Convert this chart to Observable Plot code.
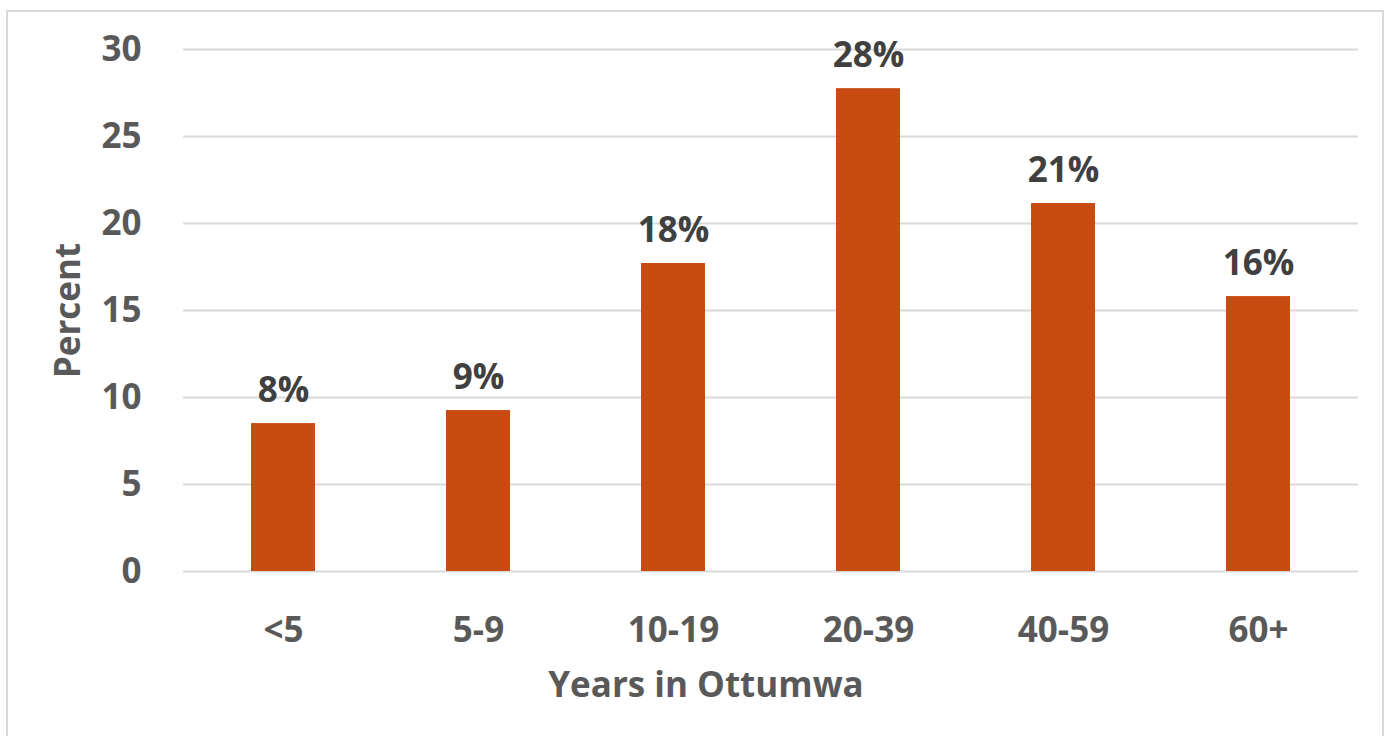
<!DOCTYPE html>
<html>
<head>
<meta charset="utf-8">
<script src="https://cdn.jsdelivr.net/npm/d3@7"></script>
<script src="https://cdn.jsdelivr.net/npm/@observablehq/plot@0.6"></script>
<style>
  html, body { margin: 0; padding: 0; background: #fff; }
  #frame { position: absolute; left: 6px; top: 10px; width: 1378px; height: 760px; border: 2px solid #d9d9d9; box-sizing: border-box; }
  #chart { position: absolute; left: 0; top: 0; }
</style>
</head>
<body>
<div id="frame"></div>
<div id="chart"></div>
<script>
const categories = ["<5", "5-9", "10-19", "20-39", "40-59", "60+"];
const percents = [8.5, 9.25, 17.7, 27.75, 21.15, 15.8];
const labels = ["8%", "9%", "18%", "28%", "21%", "16%"];
const yTicks = [0, 5, 10, 15, 20, 25, 30];

const data = categories.map((c, i) => ({cat: c, value: percents[i], label: labels[i]}));

const font = "'Open Sans', sans-serif";
const chart = Plot.plot({
  width: 1393,
  height: 736,
  marginLeft: 183,
  marginRight: 35,
  marginTop: 49,
  marginBottom: 165,
  style: {fontFamily: font, fontWeight: "bold", background: "transparent"},
  x: {domain: categories, paddingInner: 0.673, paddingOuter: 0.3365},
  y: {domain: [0, 30]},
  marks: [
    Plot.gridY(yTicks, {stroke: "#d9d9d9", strokeOpacity: 1, strokeWidth: 2}),
    Plot.barY(data, {x: "cat", y: "value", fill: "#c84b12"}),
    Plot.text(data, {x: "cat", y: "value", text: "label", dy: -33, fill: "#404040", fontSize: 35, fontWeight: "bold", lineAnchor: "middle"}),
    Plot.axisY(yTicks, {tickSize: 0, tickPadding: 42, fontSize: 35, fill: "#595959", label: null, fontWeight: "bold"}),
    Plot.axisX({tickSize: 0, tickPadding: 46, fontSize: 35, fill: "#595959", label: null, fontWeight: "bold"}),
    Plot.text(["Percent"], {frameAnchor: "left", textAnchor: "middle", dx: -115, rotate: -90, fontSize: 35, fill: "#595959", fontWeight: "bold", lineAnchor: "middle"}),
    Plot.text(["Years in Ottumwa"], {frameAnchor: "bottom", textAnchor: "middle", dx: -65, dy: 114, fontSize: 35, fill: "#595959", fontWeight: "bold", lineAnchor: "middle"})
  ]
});
document.getElementById("chart").appendChild(chart);
</script>
</body>
</html>
